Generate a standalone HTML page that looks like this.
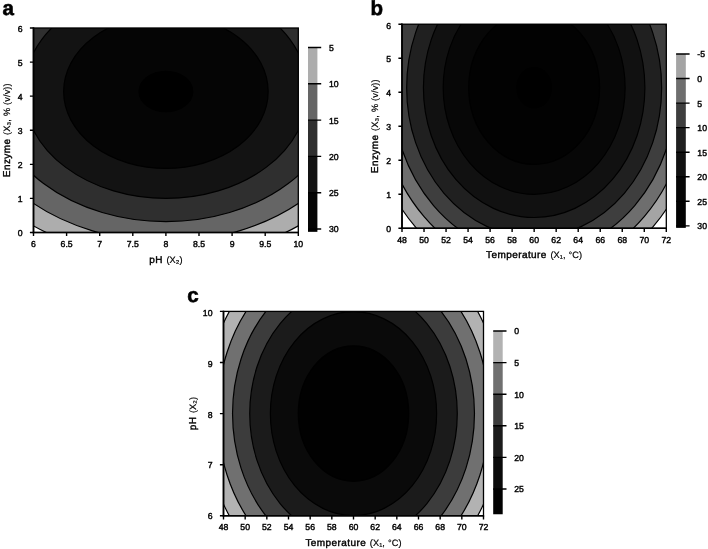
<!DOCTYPE html>
<html><head><meta charset="utf-8"><title>Contour plots</title>
<style>html,body{margin:0;padding:0;background:#fff}svg{display:block}text{text-rendering:geometricPrecision}</style></head>
<body>
<svg width="708" height="549" viewBox="0 0 708 549">
<rect width="708" height="549" fill="#fff"/>
<clipPath id="cpa"><rect x="33.5" y="28" width="264.80" height="204.50"/></clipPath>
<rect x="33.5" y="28" width="264.80" height="204.50" fill="#fff"/>
<g clip-path="url(#cpa)" stroke="#000" stroke-width="1.2">
<ellipse cx="165.90" cy="91.57" rx="222.29" ry="167.14" fill="#adadad"/>
<ellipse cx="165.90" cy="91.57" rx="199.19" ry="149.77" fill="#656565"/>
<ellipse cx="165.90" cy="91.57" rx="173.02" ry="130.09" fill="#2f2f2f"/>
<ellipse cx="165.90" cy="91.57" rx="142.12" ry="106.86" fill="#131313"/>
<ellipse cx="165.90" cy="91.57" rx="102.27" ry="76.90" fill="#050505"/>
<ellipse cx="165.90" cy="91.57" rx="26.85" ry="20.18" fill="#000000"/>
</g>
<rect x="33.5" y="28" width="264.80" height="204.50" fill="none" stroke="#000" stroke-width="1.3"/>
<path d="M33.5 27.4V233.2" stroke="#000" stroke-width="1.7" fill="none"/>
<path d="M32.7 232.5H298.90000000000003" stroke="#000" stroke-width="1.4" fill="none"/>
<path d="M33.50 232.5v3.6M66.60 232.5v3.6M99.70 232.5v3.6M132.80 232.5v3.6M165.90 232.5v3.6M199.00 232.5v3.6M232.10 232.5v3.6M265.20 232.5v3.6M298.30 232.5v3.6M33.5 232.50h-3.6M33.5 198.42h-3.6M33.5 164.33h-3.6M33.5 130.25h-3.6M33.5 96.17h-3.6M33.5 62.08h-3.6M33.5 28.00h-3.6" stroke="#000" stroke-width="1.4" fill="none"/>
<g font-family='"Liberation Sans", sans-serif' font-size="8.7" fill="#000" stroke="#000" stroke-width="0.4">
<text x="33.50" y="247.00" text-anchor="middle">6</text>
<text x="66.60" y="247.00" text-anchor="middle">6.5</text>
<text x="99.70" y="247.00" text-anchor="middle">7</text>
<text x="132.80" y="247.00" text-anchor="middle">7.5</text>
<text x="165.90" y="247.00" text-anchor="middle">8</text>
<text x="199.00" y="247.00" text-anchor="middle">8.5</text>
<text x="232.10" y="247.00" text-anchor="middle">9</text>
<text x="265.20" y="247.00" text-anchor="middle">9.5</text>
<text x="298.30" y="247.00" text-anchor="middle">10</text>
<text x="22.50" y="236.05" text-anchor="end">0</text>
<text x="22.50" y="202.11" text-anchor="end">1</text>
<text x="22.50" y="168.17" text-anchor="end">2</text>
<text x="22.50" y="134.23" text-anchor="end">3</text>
<text x="22.50" y="100.28" text-anchor="end">4</text>
<text x="22.50" y="66.34" text-anchor="end">5</text>
<text x="22.50" y="32.40" text-anchor="end">6</text>
</g>
<text x="165.90" y="263" text-anchor="middle" font-family='"Liberation Sans", sans-serif' font-size="10.0" fill="#000"><tspan stroke="#000" stroke-width="0.4" letter-spacing="0.42">pH</tspan> <tspan font-size="9.2" word-spacing="0.3" letter-spacing="0.1" stroke="#000" stroke-width="0.2" dx="0.8">(X<tspan>₂</tspan><tspan>)</tspan></tspan></text>
<text transform="translate(9.70 130.25) rotate(-90)" text-anchor="middle" font-family='"Liberation Sans", sans-serif' font-size="10.0" fill="#000"><tspan stroke="#000" stroke-width="0.4" letter-spacing="0.42">Enzyme</tspan> <tspan font-size="9.2" word-spacing="0.3" letter-spacing="0.1" stroke="#000" stroke-width="0.2" dx="0.8">(X<tspan>₃</tspan><tspan>, % (v/v))</tspan></tspan></text>
<rect x="308" y="47.50" width="9.40" height="36.60" fill="#adadad"/>
<rect x="308" y="83.80" width="9.40" height="36.60" fill="#656565"/>
<rect x="308" y="120.10" width="9.40" height="36.60" fill="#2f2f2f"/>
<rect x="308" y="156.40" width="9.40" height="36.60" fill="#131313"/>
<rect x="308" y="192.70" width="9.40" height="36.60" fill="#050505"/>
<rect x="308" y="229.00" width="9.40" height="2.84" fill="#000000"/>
<path d="M308 47.50H321.2M308 83.80H321.2M308 120.10H321.2M308 156.40H321.2M308 192.70H321.2M308 229.00H321.2" stroke="#000" stroke-width="1.4" fill="none"/>
<g font-family='"Liberation Sans", sans-serif' font-size="8.7" fill="#000" stroke="#000" stroke-width="0.4">
<text x="328.90" y="50.90">5</text>
<text x="328.90" y="87.20">10</text>
<text x="328.90" y="123.50">15</text>
<text x="328.90" y="159.80">20</text>
<text x="328.90" y="196.10">25</text>
<text x="328.90" y="232.40">30</text>
</g>
<text x="2.5" y="14.8" font-family='"Liberation Sans", sans-serif' font-weight="bold" font-size="20.5" fill="#000" stroke="#000" stroke-width="0.6">a</text>
<clipPath id="cpb"><rect x="402" y="24.2" width="264.30" height="204.10"/></clipPath>
<rect x="402" y="24.2" width="264.30" height="204.10" fill="#fff"/>
<g clip-path="url(#cpb)" stroke="#000" stroke-width="1.2">
<ellipse cx="534.15" cy="87.64" rx="167.99" ry="196.96" fill="#a4a4a4"/>
<ellipse cx="534.15" cy="87.64" rx="155.66" ry="182.51" fill="#6e6e6e"/>
<ellipse cx="534.15" cy="87.64" rx="142.27" ry="166.81" fill="#3e3e3e"/>
<ellipse cx="534.15" cy="87.64" rx="127.49" ry="149.47" fill="#202020"/>
<ellipse cx="534.15" cy="87.64" rx="110.74" ry="129.84" fill="#111111"/>
<ellipse cx="534.15" cy="87.64" rx="90.96" ry="106.65" fill="#070707"/>
<ellipse cx="534.15" cy="87.64" rx="65.46" ry="76.75" fill="#020202"/>
<ellipse cx="534.15" cy="87.64" rx="17.18" ry="20.14" fill="#000000"/>
</g>
<rect x="402" y="24.2" width="264.30" height="204.10" fill="none" stroke="#000" stroke-width="1.3"/>
<path d="M402 23.599999999999998V229.0" stroke="#000" stroke-width="1.7" fill="none"/>
<path d="M401.2 228.3H666.9" stroke="#000" stroke-width="1.4" fill="none"/>
<path d="M402.00 228.3v3.6M424.02 228.3v3.6M446.05 228.3v3.6M468.07 228.3v3.6M490.10 228.3v3.6M512.12 228.3v3.6M534.15 228.3v3.6M556.17 228.3v3.6M578.20 228.3v3.6M600.22 228.3v3.6M622.25 228.3v3.6M644.27 228.3v3.6M666.30 228.3v3.6M402 228.30h-3.6M402 194.28h-3.6M402 160.27h-3.6M402 126.25h-3.6M402 92.23h-3.6M402 58.22h-3.6M402 24.20h-3.6" stroke="#000" stroke-width="1.4" fill="none"/>
<g font-family='"Liberation Sans", sans-serif' font-size="8.7" fill="#000" stroke="#000" stroke-width="0.4">
<text x="402.00" y="242.80" text-anchor="middle">48</text>
<text x="424.02" y="242.80" text-anchor="middle">50</text>
<text x="446.05" y="242.80" text-anchor="middle">52</text>
<text x="468.07" y="242.80" text-anchor="middle">54</text>
<text x="490.10" y="242.80" text-anchor="middle">56</text>
<text x="512.12" y="242.80" text-anchor="middle">58</text>
<text x="534.15" y="242.80" text-anchor="middle">60</text>
<text x="556.17" y="242.80" text-anchor="middle">62</text>
<text x="578.20" y="242.80" text-anchor="middle">64</text>
<text x="600.22" y="242.80" text-anchor="middle">66</text>
<text x="622.25" y="242.80" text-anchor="middle">68</text>
<text x="644.27" y="242.80" text-anchor="middle">70</text>
<text x="666.30" y="242.80" text-anchor="middle">72</text>
<text x="391.00" y="231.85" text-anchor="end">0</text>
<text x="391.00" y="197.98" text-anchor="end">1</text>
<text x="391.00" y="164.10" text-anchor="end">2</text>
<text x="391.00" y="130.23" text-anchor="end">3</text>
<text x="391.00" y="96.35" text-anchor="end">4</text>
<text x="391.00" y="62.47" text-anchor="end">5</text>
<text x="391.00" y="28.60" text-anchor="end">6</text>
</g>
<text x="534.15" y="258" text-anchor="middle" font-family='"Liberation Sans", sans-serif' font-size="10.0" fill="#000"><tspan stroke="#000" stroke-width="0.4" letter-spacing="0.42">Temperature</tspan> <tspan font-size="9.2" word-spacing="0.3" letter-spacing="0.1" stroke="#000" stroke-width="0.2" dx="0.8">(X<tspan>₁</tspan><tspan>, °C)</tspan></tspan></text>
<text transform="translate(377.90 126.25) rotate(-90)" text-anchor="middle" font-family='"Liberation Sans", sans-serif' font-size="10.0" fill="#000"><tspan stroke="#000" stroke-width="0.4" letter-spacing="0.42">Enzyme</tspan> <tspan font-size="9.2" word-spacing="0.3" letter-spacing="0.1" stroke="#000" stroke-width="0.2" dx="0.8">(X<tspan>₃</tspan><tspan>, % (v/v))</tspan></tspan></text>
<rect x="676.1" y="54.00" width="9.70" height="24.85" fill="#a4a4a4"/>
<rect x="676.1" y="78.55" width="9.70" height="24.85" fill="#6e6e6e"/>
<rect x="676.1" y="103.10" width="9.70" height="24.85" fill="#3e3e3e"/>
<rect x="676.1" y="127.65" width="9.70" height="24.85" fill="#202020"/>
<rect x="676.1" y="152.20" width="9.70" height="24.85" fill="#111111"/>
<rect x="676.1" y="176.75" width="9.70" height="24.85" fill="#070707"/>
<rect x="676.1" y="201.30" width="9.70" height="24.85" fill="#020202"/>
<rect x="676.1" y="225.85" width="9.70" height="2.02" fill="#000000"/>
<path d="M676.1 54.00H689.5999999999999M676.1 78.55H689.5999999999999M676.1 103.10H689.5999999999999M676.1 127.65H689.5999999999999M676.1 152.20H689.5999999999999M676.1 176.75H689.5999999999999M676.1 201.30H689.5999999999999M676.1 225.85H689.5999999999999" stroke="#000" stroke-width="1.4" fill="none"/>
<g font-family='"Liberation Sans", sans-serif' font-size="8.7" fill="#000" stroke="#000" stroke-width="0.4">
<text x="697.30" y="57.40">-5</text>
<text x="697.30" y="81.95">0</text>
<text x="697.30" y="106.50">5</text>
<text x="697.30" y="131.05">10</text>
<text x="697.30" y="155.60">15</text>
<text x="697.30" y="180.15">20</text>
<text x="697.30" y="204.70">25</text>
<text x="697.30" y="229.25">30</text>
</g>
<text x="370.5" y="14.9" font-family='"Liberation Sans", sans-serif' font-weight="bold" font-size="20.5" fill="#000" stroke="#000" stroke-width="0.6">b</text>
<clipPath id="cpc"><rect x="223.5" y="311.4" width="260.00" height="204.40"/></clipPath>
<rect x="223.5" y="311.4" width="260.00" height="204.40" fill="#fff"/>
<g clip-path="url(#cpc)" stroke="#000" stroke-width="1.2">
<ellipse cx="353.50" cy="413.60" rx="149.51" ry="183.30" fill="#b2b2b2"/>
<ellipse cx="353.50" cy="413.60" rx="135.99" ry="166.72" fill="#707070"/>
<ellipse cx="353.50" cy="413.60" rx="120.96" ry="148.30" fill="#3c3c3c"/>
<ellipse cx="353.50" cy="413.60" rx="103.78" ry="127.24" fill="#1b1b1b"/>
<ellipse cx="353.50" cy="413.60" rx="83.13" ry="101.92" fill="#0a0a0a"/>
<ellipse cx="353.50" cy="413.60" rx="55.23" ry="67.71" fill="#010101"/>
</g>
<rect x="223.5" y="311.4" width="260.00" height="204.40" fill="none" stroke="#000" stroke-width="1.3"/>
<path d="M223.5 310.79999999999995V516.5" stroke="#000" stroke-width="1.7" fill="none"/>
<path d="M222.7 515.8H484.1" stroke="#000" stroke-width="1.4" fill="none"/>
<path d="M223.50 515.8v3.6M245.17 515.8v3.6M266.83 515.8v3.6M288.50 515.8v3.6M310.17 515.8v3.6M331.83 515.8v3.6M353.50 515.8v3.6M375.17 515.8v3.6M396.83 515.8v3.6M418.50 515.8v3.6M440.17 515.8v3.6M461.83 515.8v3.6M483.50 515.8v3.6M223.5 515.80h-3.6M223.5 464.70h-3.6M223.5 413.60h-3.6M223.5 362.50h-3.6M223.5 311.40h-3.6" stroke="#000" stroke-width="1.4" fill="none"/>
<g font-family='"Liberation Sans", sans-serif' font-size="8.7" fill="#000" stroke="#000" stroke-width="0.4">
<text x="223.50" y="530.30" text-anchor="middle">48</text>
<text x="245.17" y="530.30" text-anchor="middle">50</text>
<text x="266.83" y="530.30" text-anchor="middle">52</text>
<text x="288.50" y="530.30" text-anchor="middle">54</text>
<text x="310.17" y="530.30" text-anchor="middle">56</text>
<text x="331.83" y="530.30" text-anchor="middle">58</text>
<text x="353.50" y="530.30" text-anchor="middle">60</text>
<text x="375.17" y="530.30" text-anchor="middle">62</text>
<text x="396.83" y="530.30" text-anchor="middle">64</text>
<text x="418.50" y="530.30" text-anchor="middle">66</text>
<text x="440.17" y="530.30" text-anchor="middle">68</text>
<text x="461.83" y="530.30" text-anchor="middle">70</text>
<text x="483.50" y="530.30" text-anchor="middle">72</text>
<text x="212.50" y="519.35" text-anchor="end">6</text>
<text x="212.50" y="468.46" text-anchor="end">7</text>
<text x="212.50" y="417.57" text-anchor="end">8</text>
<text x="212.50" y="366.69" text-anchor="end">9</text>
<text x="212.50" y="315.80" text-anchor="end">10</text>
</g>
<text x="353.50" y="546" text-anchor="middle" font-family='"Liberation Sans", sans-serif' font-size="10.0" fill="#000"><tspan stroke="#000" stroke-width="0.4" letter-spacing="0.42">Temperature</tspan> <tspan font-size="9.2" word-spacing="0.3" letter-spacing="0.1" stroke="#000" stroke-width="0.2" dx="0.8">(X<tspan>₁</tspan><tspan>, °C)</tspan></tspan></text>
<text transform="translate(196.40 413.60) rotate(-90)" text-anchor="middle" font-family='"Liberation Sans", sans-serif' font-size="10.0" fill="#000"><tspan stroke="#000" stroke-width="0.4" letter-spacing="0.42">pH</tspan> <tspan font-size="9.2" word-spacing="0.3" letter-spacing="0.1" stroke="#000" stroke-width="0.2" dx="0.8">(X<tspan>₂</tspan><tspan>)</tspan></tspan></text>
<rect x="493.2" y="331.00" width="9.50" height="31.90" fill="#b2b2b2"/>
<rect x="493.2" y="362.60" width="9.50" height="31.90" fill="#707070"/>
<rect x="493.2" y="394.20" width="9.50" height="31.90" fill="#3c3c3c"/>
<rect x="493.2" y="425.80" width="9.50" height="31.90" fill="#1b1b1b"/>
<rect x="493.2" y="457.40" width="9.50" height="31.90" fill="#0a0a0a"/>
<rect x="493.2" y="489.00" width="9.50" height="25.26" fill="#010101"/>
<path d="M493.2 331.00H506.5M493.2 362.60H506.5M493.2 394.20H506.5M493.2 425.80H506.5M493.2 457.40H506.5M493.2 489.00H506.5" stroke="#000" stroke-width="1.4" fill="none"/>
<g font-family='"Liberation Sans", sans-serif' font-size="8.7" fill="#000" stroke="#000" stroke-width="0.4">
<text x="514.20" y="334.40">0</text>
<text x="514.20" y="366.00">5</text>
<text x="514.20" y="397.60">10</text>
<text x="514.20" y="429.20">15</text>
<text x="514.20" y="460.80">20</text>
<text x="514.20" y="492.40">25</text>
</g>
<text x="187.3" y="302.3" font-family='"Liberation Sans", sans-serif' font-weight="bold" font-size="20.5" fill="#000" stroke="#000" stroke-width="0.6">c</text>
</svg>
</body></html>
